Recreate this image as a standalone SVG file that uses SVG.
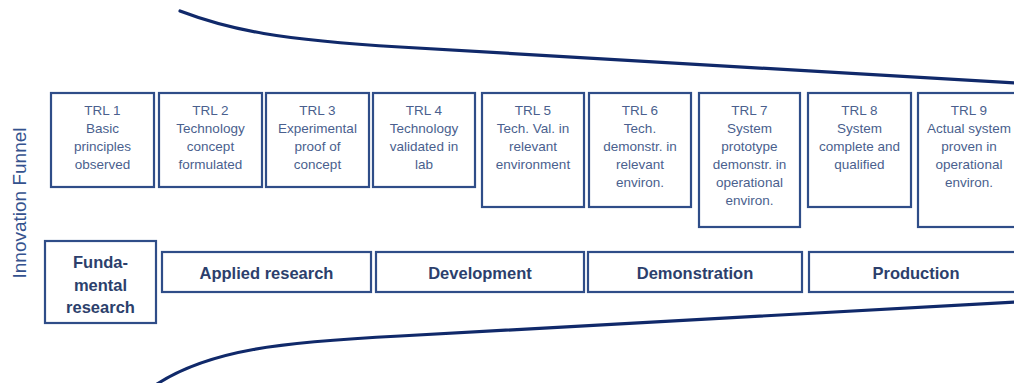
<svg xmlns="http://www.w3.org/2000/svg" width="1014" height="383" viewBox="0 0 1014 383">
<style>
.box{fill:#fff;stroke:#2f4d88;stroke-width:2.2}
.trl{font-family:"Liberation Sans",Arial,sans-serif;font-size:13.5px;fill:#4a5f8e;text-anchor:middle}
.ph{font-family:"Liberation Sans",Arial,sans-serif;font-size:16.5px;font-weight:bold;fill:#2c3f6c;text-anchor:middle}
.funnel{fill:none;stroke:#10296a;stroke-width:3.2;stroke-linecap:round}
.side{font-family:"Liberation Sans",Arial,sans-serif;font-size:19px;fill:#34528e;text-anchor:middle}
</style>
<rect width="1014" height="383" fill="#fff"/>
<g id="connectors">
<path class="funnel" d="M180,11 C230,30 280,40 400,47 L1016,83"/>
<path class="funnel" d="M157,384 C210,350 280,342 400,336 L1016,302"/>
</g>
<g id="label"><text class="side" transform="translate(26,203) rotate(-90)">Innovation Funnel</text></g>
<g id="trl1"><rect class="box" x="51" y="93" width="103" height="94"/><text class="trl" x="102.5" y="115">TRL 1<tspan x="102.5" dy="18">Basic</tspan><tspan x="102.5" dy="18">principles</tspan><tspan x="102.5" dy="18">observed</tspan></text></g>
<g id="trl2"><rect class="box" x="159" y="93" width="103" height="94"/><text class="trl" x="210.5" y="115">TRL 2<tspan x="210.5" dy="18">Technology</tspan><tspan x="210.5" dy="18">concept</tspan><tspan x="210.5" dy="18">formulated</tspan></text></g>
<g id="trl3"><rect class="box" x="266" y="93" width="103" height="94"/><text class="trl" x="317.5" y="115">TRL 3<tspan x="317.5" dy="18">Experimental</tspan><tspan x="317.5" dy="18">proof of</tspan><tspan x="317.5" dy="18">concept</tspan></text></g>
<g id="trl4"><rect class="box" x="373" y="93" width="102" height="94"/><text class="trl" x="424" y="115">TRL 4<tspan x="424" dy="18">Technology</tspan><tspan x="424" dy="18">validated in</tspan><tspan x="424" dy="18">lab</tspan></text></g>
<g id="trl5"><rect class="box" x="482" y="93" width="102" height="114"/><text class="trl" x="533" y="115">TRL 5<tspan x="533" dy="18">Tech. Val. in</tspan><tspan x="533" dy="18">relevant</tspan><tspan x="533" dy="18">environment</tspan></text></g>
<g id="trl6"><rect class="box" x="589" y="93" width="102" height="114"/><text class="trl" x="640" y="115">TRL 6<tspan x="640" dy="18">Tech.</tspan><tspan x="640" dy="18">demonstr. in</tspan><tspan x="640" dy="18">relevant</tspan><tspan x="640" dy="18">environ.</tspan></text></g>
<g id="trl7"><rect class="box" x="699" y="93" width="101" height="134"/><text class="trl" x="749.5" y="115">TRL 7<tspan x="749.5" dy="18">System</tspan><tspan x="749.5" dy="18">prototype</tspan><tspan x="749.5" dy="18">demonstr. in</tspan><tspan x="749.5" dy="18">operational</tspan><tspan x="749.5" dy="18">environ.</tspan></text></g>
<g id="trl8"><rect class="box" x="808" y="93" width="103" height="114"/><text class="trl" x="859.5" y="115">TRL 8<tspan x="859.5" dy="18">System</tspan><tspan x="859.5" dy="18">complete and</tspan><tspan x="859.5" dy="18">qualified</tspan></text></g>
<g id="trl9"><rect class="box" x="918" y="93" width="103" height="134"/><text class="trl" x="969" y="115">TRL 9<tspan x="969" dy="18">Actual system</tspan><tspan x="969" dy="18">proven in</tspan><tspan x="969" dy="18">operational</tspan><tspan x="969" dy="18">environ.</tspan></text></g>
<g id="fundamental"><rect class="box" x="45" y="241" width="111" height="82"/><text class="ph" x="100.5" y="268">Funda-<tspan x="100.5" dy="22.5">mental</tspan><tspan x="100.5" dy="22.5">research</tspan></text></g>
<g id="applied"><rect class="box" x="162" y="252" width="209" height="40"/><text class="ph" x="266.5" y="279">Applied research</text></g>
<g id="development"><rect class="box" x="376" y="252" width="208" height="40"/><text class="ph" x="480" y="279">Development</text></g>
<g id="demonstration"><rect class="box" x="588" y="252" width="214" height="40"/><text class="ph" x="695" y="279">Demonstration</text></g>
<g id="production"><rect class="box" x="809" y="252" width="215" height="40"/><text class="ph" x="916" y="279">Production</text></g>
</svg>
